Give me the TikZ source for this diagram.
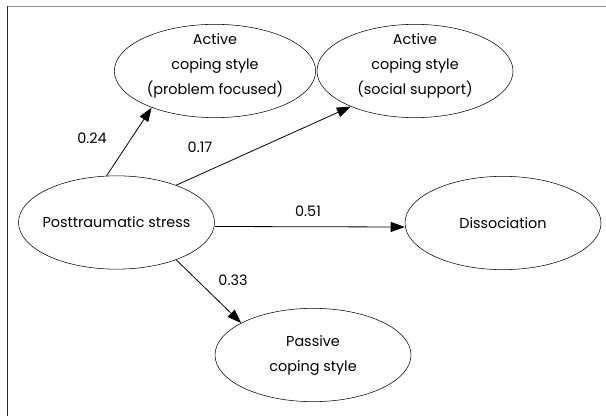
\documentclass[tikz,border=0pt]{standalone}
\usepackage{fontspec}
\setmainfont{Poppins}
\usetikzlibrary{shapes.geometric}
\usetikzlibrary{positioning}
\usetikzlibrary{arrows.meta}

\tikzset{
  var/.style={draw, ellipse, inner sep=0pt, align=center, minimum width=147pt, minimum height=70pt, font=\fontsize{10.8}{18.75}\selectfont},
  tri/.style={text depth=10pt, inner ysep=-5pt},
  path/.style={-{Triangle[length=10.5pt,width=7.5pt]}, line width=0.6pt},
  coef/.style={font=\fontsize{10.8}{12}\selectfont}
}

\begin{document}
\begin{tikzpicture}[x=0.75pt,y=-0.75pt]
\useasboundingbox (0,0) rectangle (606,416);
\draw[gray!85, line width=1pt] (7,6.5)--(606,6.5);
\draw[black!85, line width=1pt] (7.5,6.5)--(7.5,416);
% latent variables
\node[var, tri, minimum width=151pt] (prob) at (215,71) {Active\\coping style\\(problem focused)};
\node[var, tri] (soc) at (415,71) {Active\\coping style\\(social support)};
\node[var, inner xsep=-12pt] (pts) at (116.5,222.5) {Posttraumatic stress};
\node[var] (diss) at (503,223) {Dissociation};
\node[var] (pass) at (313,355) {Passive\\coping style};
% paths
\draw[path] (pts.102)--(prob.210);
\draw[path] (pts.32)--(soc.209);
\draw[path] ([yshift=-3pt]pts.east)--([yshift=-3pt]diss.west);
\draw[path] (pts.-32)--(pass.156);
\node[coef] at (92,138) {0.24};
\node[coef] at (200,147) {0.17};
\node[coef] at (308,211) {0.51};
\node[coef] at (233,280) {0.33};
\end{tikzpicture}
\end{document}
